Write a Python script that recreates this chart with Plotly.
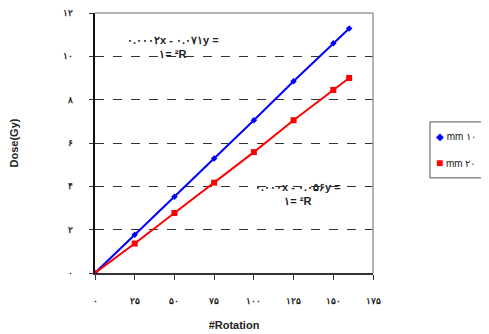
import plotly.graph_objects as go

rotations = [0, 25, 50, 75, 100, 125, 150, 160]
dose_10mm = [0, 1.76, 3.52, 5.28, 7.05, 8.85, 10.6, 11.28]
dose_20mm = [0, 1.36, 2.77, 4.17, 5.58, 7.05, 8.45, 9.0]

x_tickvals = [0, 25, 50, 75, 100, 125, 150, 175]
x_ticktext = ["۰", "۲۵", "۵۰", "۷۵", "۱۰۰", "۱۲۵", "۱۵۰", "۱۷۵"]
y_tickvals = [0, 2, 4, 6, 8, 10, 12]
y_ticktext = ["۰", "۲", "۴", "۶", "۸", "۱۰", "۱۲"]

series_names = ["mm ۱۰", "mm ۲۰"]
eq1 = ["۰.۰۰۰۲x - ۰.۰۷۱y =", "۱= ²R"]
eq2 = ["۰.۰۰۰x - ۰.۰۵۶y =", "۱= ²R"]

BLUE = "#0000FF"
RED = "#FF0000"
FONT = "Liberation Sans, Arial, sans-serif"
LRO = "\u202d"

fig = go.Figure()
fig.add_trace(go.Scatter(x=rotations, y=dose_10mm, mode="lines+markers", name=series_names[0],
                         line=dict(color=BLUE, width=2),
                         marker=dict(symbol="diamond", size=5, color=BLUE),
                         showlegend=False))
fig.add_trace(go.Scatter(x=rotations, y=dose_20mm, mode="lines+markers", name=series_names[1],
                         line=dict(color=RED, width=2),
                         marker=dict(symbol="square", size=6, color=RED),
                         showlegend=False))

# plot frame (top/right gray borders)
fig.add_shape(type="line", xref="paper", yref="paper", x0=0, x1=1, y0=1, y1=1,
              line=dict(color="#999999", width=1.5))
fig.add_shape(type="line", xref="paper", yref="paper", x0=1, x1=1, y0=0, y1=1,
              line=dict(color="#999999", width=1.5))

# compact legend box (drawn manually to match the narrow box of the reference)
fig.add_shape(type="rect", xref="paper", yref="paper", x0=1.205, x1=1.41, y0=0.366, y1=0.581,
              line=dict(color="#555555", width=1), fillcolor="white")
legfont = dict(family=FONT, size=10, color="#222222")
fig.add_annotation(xref="paper", yref="paper", x=1.218, y=0.524, xanchor="left",
                   text="<span style='color:%s'>◆</span> %s%s" % (BLUE, LRO, series_names[0]),
                   showarrow=False, font=legfont)
fig.add_annotation(xref="paper", yref="paper", x=1.218, y=0.424, xanchor="left",
                   text="<span style='color:%s;font-size:12px'>■</span> %s%s" % (RED, LRO, series_names[1]),
                   showarrow=False, font=legfont)

eqfont = dict(family=FONT, size=11, color="#222222")
fig.add_annotation(x=49, y=10.45, text="<b>%s%s<br>%s%s</b>" % (LRO, eq1[0], LRO, eq1[1]),
                   showarrow=False, font=eqfont, align="center")
fig.add_annotation(x=128, y=3.65, text="<b>%s%s<br>%s%s</b>" % (LRO, eq2[0], LRO, eq2[1]),
                   showarrow=False, font=eqfont, align="center")

fig.update_layout(
    width=481, height=326,
    margin=dict(l=87, r=116, t=5, b=61, autoexpand=False),
    paper_bgcolor="white", plot_bgcolor="white",
    font=dict(family=FONT, size=9, color="#222222"),
    showlegend=False,
    xaxis=dict(range=[0, 175], tickvals=x_tickvals, ticktext=x_ticktext,
               showgrid=False, zeroline=False, showline=True, automargin=False,
               linecolor="#333333", linewidth=1.5,
               ticks="outside", ticklen=5, tickcolor="#333333",
               ticklabelstandoff=13,
               tickfont=dict(size=9, color="#222222", weight="bold"),
               title=dict(text="<b>#Rotation</b>", font=dict(size=11, color="#222222"),
                          standoff=17)),
    yaxis=dict(range=[0, 12], tickvals=y_tickvals, ticktext=y_ticktext,
               showgrid=True, gridcolor="#333333", griddash="dash", gridwidth=1,
               zeroline=False, showline=True, automargin=False,
               linecolor="#111111", linewidth=1.5,
               ticks="outside", ticklen=4, tickcolor="#333333",
               ticklabelstandoff=14,
               tickfont=dict(size=9, color="#222222", weight="bold"),
               title=dict(text="<b>Dose(Gy)</b>", font=dict(size=11, color="#222222"),
                          standoff=44)),
)

fig.write_html("out.html")
